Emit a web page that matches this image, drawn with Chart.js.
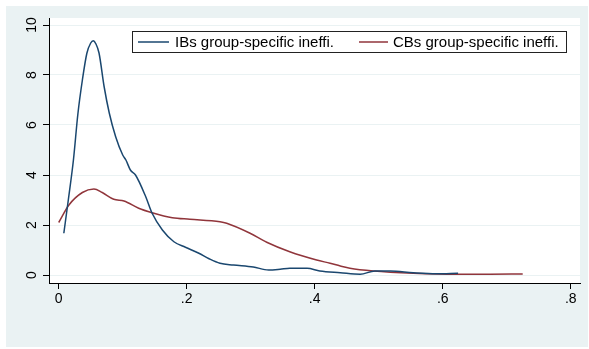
<!DOCTYPE html>
<html>
<head>
<meta charset="utf-8">
<script src="https://cdn.jsdelivr.net/npm/chart.js@4/dist/chart.umd.min.js"></script>
<style>
  html, body { margin: 0; padding: 0; background: #fff; }
  #wrap { width: 589px; height: 349px; }
</style>
</head>
<body>
<div id="wrap"><canvas id="kde" width="589" height="349"></canvas></div>
<script>
// kernel density estimates
const ibsX = [0.008, 0.015, 0.023, 0.030, 0.037, 0.044, 0.050, 0.054, 0.058, 0.063, 0.071, 0.079, 0.089, 0.100, 0.105, 0.112, 0.120, 0.136, 0.146, 0.162, 0.180, 0.198, 0.219, 0.235, 0.252, 0.273, 0.304, 0.328, 0.346, 0.361, 0.388, 0.408, 0.440, 0.471, 0.494, 0.518, 0.554, 0.590, 0.624];
const ibsY = [1.67, 3.0, 4.6, 6.45, 7.8, 8.87, 9.28, 9.37, 9.25, 8.88, 7.53, 6.48, 5.53, 4.8, 4.6, 4.2, 4.0, 3.13, 2.47, 1.8, 1.33, 1.11, 0.87, 0.65, 0.47, 0.4, 0.32, 0.2, 0.23, 0.27, 0.27, 0.16, 0.09, 0.03, 0.16, 0.16, 0.09, 0.05, 0.07];

const cbsX = [0.0, 0.016, 0.037, 0.055, 0.068, 0.086, 0.102, 0.125, 0.146, 0.1775, 0.205, 0.252, 0.2625, 0.299, 0.325, 0.361, 0.403, 0.424, 0.440, 0.455, 0.4916, 0.554, 0.622, 0.674, 0.725];
const cbsY = [2.1, 2.8, 3.3, 3.44, 3.3, 3.03, 2.96, 2.67, 2.49, 2.29, 2.23, 2.13, 2.07, 1.67, 1.31, 0.93, 0.6, 0.47, 0.36, 0.27, 0.16, 0.07, 0.03, 0.03, 0.04];

const labels = ["IBs group-specific ineffi.", "CBs group-specific ineffi."];
const xTicks = [0, 0.2, 0.4, 0.6, 0.8];
const xTickLabels = ["0", ".2", ".4", ".6", ".8"];
const yTicks = [0, 2, 4, 6, 8, 10];

const NAVY = "#1a476f";
const MAROON = "#90353b";
const BG = "#eaf2f3";
const FONT = "'Liberation Sans', Arial, sans-serif";

function toPoints(xs, ys) {
  return xs.map((x, i) => ({ x: x, y: ys[i] }));
}

// stata-like backdrop: grey frame, white plot region
const backdrop = {
  id: "backdrop",
  beforeDraw(chart) {
    const c = chart.ctx;
    const a = chart.chartArea;
    c.save();
    c.fillStyle = "#fff";
    c.fillRect(0, 0, chart.width, chart.height);
    c.fillStyle = BG;
    c.fillRect(6, 6, 582, 341);
    c.fillStyle = "#fff";
    c.fillRect(a.left, a.top, a.right - a.left, a.bottom - a.top);
    c.restore();
  }
};

// legend box inside the plot region
const boxLegend = {
  id: "boxLegend",
  afterDraw(chart) {
    const c = chart.ctx;
    c.save();
    c.fillStyle = "#fff";
    c.fillRect(132.5, 31.5, 434, 21);
    c.strokeStyle = "#222";
    c.lineWidth = 1;
    c.strokeRect(132.5, 31.5, 434, 21);
    c.font = "15px " + FONT;
    c.textBaseline = "middle";
    c.fillStyle = "#000";
    const items = [
      { x: 138, len: 31, tx: 175, color: NAVY, text: labels[0] },
      { x: 359, len: 29, tx: 393, color: MAROON, text: labels[1] }
    ];
    items.forEach(it => {
      c.strokeStyle = it.color;
      c.lineWidth = 1.5;
      c.beginPath();
      c.moveTo(it.x, 42);
      c.lineTo(it.x + it.len, 42);
      c.stroke();
      c.fillText(it.text, it.tx, 42.5);
    });
    c.restore();
  }
};

const ctx = document.getElementById("kde");
const chart = new Chart(ctx, {
  type: "line",
  data: {
    datasets: [
      { label: labels[0], data: toPoints(ibsX, ibsY), borderColor: NAVY, borderWidth: 1.5, pointRadius: 0, tension: 0.35, cubicInterpolationMode: "monotone", fill: false },
      { label: labels[1], data: toPoints(cbsX, cbsY), borderColor: MAROON, borderWidth: 1.5, pointRadius: 0, tension: 0.35, cubicInterpolationMode: "monotone", fill: false }
    ]
  },
  options: {
    responsive: false,
    animation: false,
    events: [],
    layout: { padding: { left: 0, right: 9, top: 18, bottom: 0 } },
    plugins: {
      legend: { display: false },
      tooltip: { enabled: false }
    },
    scales: {
      x: {
        type: "linear",
        min: -0.01516,
        max: 0.8145,
        afterBuildTicks: s => { s.ticks = xTicks.map(v => ({ value: v })); },
        afterFit: s => { s.height = 66; },
        ticks: {
          color: "#000",
          font: { family: FONT, size: 14 },
          padding: 2,
          maxRotation: 0,
          callback: (v, i) => xTickLabels[i]
        },
        grid: { drawOnChartArea: false, drawTicks: true, tickLength: 6, tickColor: "#000" },
        border: { display: true, color: "#000", width: 1 }
      },
      y: {
        type: "linear",
        min: -0.32,
        max: 10.28,
        afterBuildTicks: s => { s.ticks = yTicks.map(v => ({ value: v })); },
        afterFit: s => { s.width = 49; },
        ticks: {
          color: "#000",
          font: { family: FONT, size: 14 },
          minRotation: 90,
          maxRotation: 90,
          crossAlign: "center",
          padding: 3
        },
        grid: { color: BG, lineWidth: 1, drawTicks: true, tickLength: 6, tickColor: "#000" },
        border: { display: true, color: "#000", width: 1 }
      }
    }
  },
  plugins: [backdrop, boxLegend]
});
</script>
</body>
</html>
